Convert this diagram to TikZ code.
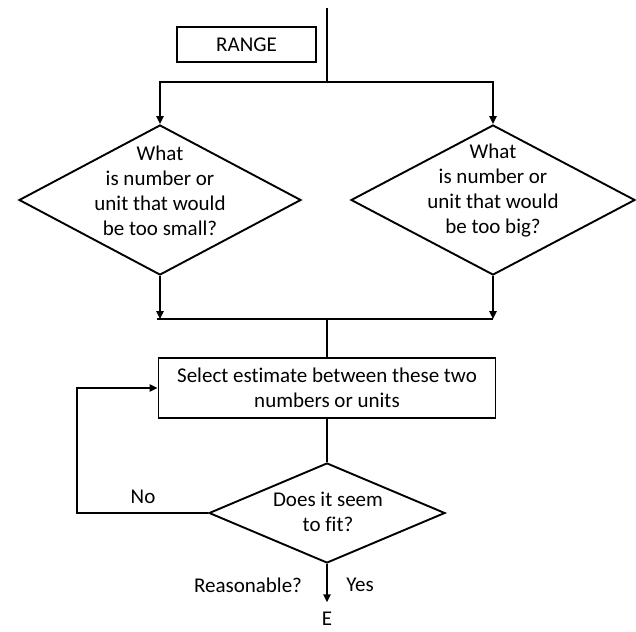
\documentclass[tikz,border=0pt]{standalone}
\usepackage{fontspec}
\setmainfont{Carlito}[Ligatures=NoCommon]
\usetikzlibrary{arrows.meta, shapes.geometric, calc}

\begin{document}
\begin{tikzpicture}[x=0.5pt,y=-0.5pt,line width=0.95pt,
  font=\fontsize{10.5}{12.5}\selectfont,
  arr/.style={-{Triangle[length=4pt,width=3.6pt]}},
  boxnode/.style={draw,rectangle,inner sep=0pt,align=center},
  decision/.style={draw,diamond,inner sep=0pt},
  txt/.style={align=center,inner sep=0pt}]

  \useasboundingbox (0,0) rectangle (636,631);

  % fixed points of the flow
  \coordinate (top)   at (327,8);
  \coordinate (split) at (327,82);
  \coordinate (join)  at (327,319);
  \coordinate (loop)  at (77,513);

  % boxes and decisions
  \node[boxnode,minimum width=69.5pt,minimum height=17.5pt] (range) at (246.5,44.5) {RANGE};
  \node[decision,minimum width=141pt,minimum height=75pt] (small) at (160,200) {};
  \node[decision,minimum width=142pt,minimum height=75pt] (big)   at (493,200) {};
  \node[txt] (smalltxt) at (160,191) {What\\is number or\\unit that would\\be too small?};
  \node[txt] (bigtxt)   at (493,191) {What\\is number or\\unit that would\\be too big?};
  \node[boxnode,minimum width=168.5pt,minimum height=30pt] (select) at (327,388)
    {Select estimate between these two\\numbers or units};
  \node[decision,minimum width=118pt,minimum height=50pt] (fit) at (327,513) {};
  \node[txt] (fittxt) at (328,512) {Does it seem\\to fit?};

  % labels
  \node (no)   at (143,497) {No};
  \node (reas) at (248,585) {Reasonable?};
  \node (yes)  at (360,585) {Yes};
  \node[inner sep=0pt] (end) at (327,619) {E};

  % connectors
  \draw (top) -- (split);
  \draw[arr] (split) -| (small.north);
  \draw[arr] (split) -| (big.north);
  \draw[arr] (small.south) -- (small.south |- join);
  \draw[arr] (big.south) -- (big.south |- join);
  \draw ($(small.south |- join)+(-3,0)$) -- (big.south |- join);
  \draw (join) -- (select.north);
  \draw (select.south) -- (fit.north);
  \draw[arr] (fit.west) -- (loop) |- (select.west);
  \draw[arr] (fit.south) -- ($(end.north)+(0,-9)$);
\end{tikzpicture}
\end{document}
